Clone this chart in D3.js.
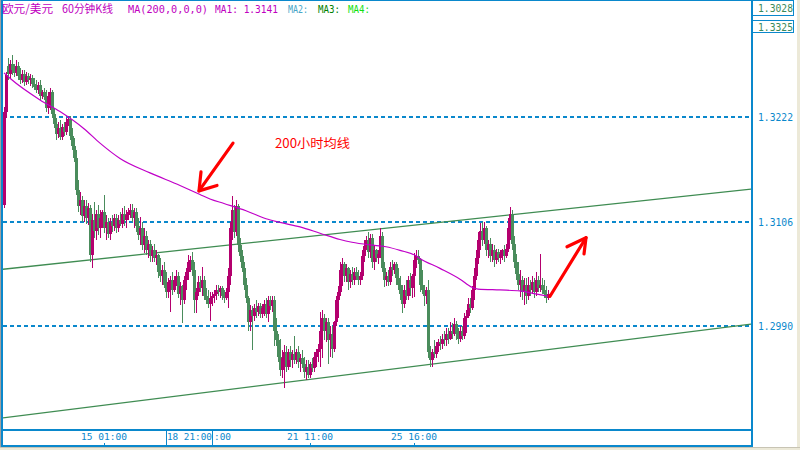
<!DOCTYPE html>
<html><head><meta charset="utf-8">
<script src="https://cdn.jsdelivr.net/npm/d3@7"></script>
<style>
html,body{margin:0;padding:0;background:#ece9d8;}
svg{display:block;}
</style></head><body>
<svg id="c" width="800" height="450"></svg>
<script>
// ---------------- data (EUR/USD, 60-minute bars) ----------------
const opens=[
1.3124,1.3228,1.3279,1.3270,1.3281,1.3274,1.3271,1.3279,1.3268,1.3263,
1.3270,1.3261,1.3268,1.3263,1.3265,1.3259,1.3255,1.3252,1.3258,1.3245,
1.3250,1.3244,1.3232,1.3245,1.3250,1.3225,1.3214,1.3203,1.3210,1.3200,
1.3211,1.3205,1.3216,1.3220,1.3201,1.3190,1.3176,1.3141,1.3123,1.3130,
1.3112,1.3123,1.3110,1.3121,1.3069,1.3108,1.3096,1.3114,1.3099,1.3110,
1.3116,1.3099,1.3105,1.3092,1.3105,1.3101,1.3110,1.3099,1.3108,1.3103,
1.3114,1.3108,1.3113,1.3116,1.3119,1.3110,1.3116,1.3101,1.3091,1.3099,
1.3080,1.3090,1.3074,1.3081,1.3068,1.3074,1.3065,1.3069,1.3050,1.3045,
1.3052,1.3036,1.3028,1.3039,1.3041,1.3030,1.3041,1.3045,1.3025,1.3034,
1.3019,1.3041,1.3050,1.3061,1.3063,1.3052,1.3019,1.3028,1.3039,1.3032,
1.3041,1.3023,1.3019,1.3014,1.3021,1.3023,1.3025,1.3030,1.3028,1.3032,
1.3023,1.3021,1.3028,1.3045,1.3099,1.3119,1.3094,1.3123,1.3080,1.3068,
1.3054,1.3035,1.3021,1.2994,1.3008,1.3001,1.3010,1.3005,1.3012,1.3003,
1.3010,1.3014,1.3003,1.3019,1.3012,1.3019,1.2985,1.2974,1.2956,1.2941,
1.2954,1.2961,1.2945,1.2961,1.2952,1.2959,1.2952,1.2961,1.2950,1.2954,
1.2948,1.2939,1.2945,1.2936,1.2948,1.2943,1.2956,1.2961,1.2965,1.2985,
1.2999,1.2985,1.2994,1.2974,1.2981,1.2965,1.2994,1.3019,1.3028,1.3052,
1.3059,1.3045,1.3054,1.3039,1.3048,1.3041,1.3050,1.3045,1.3041,1.3045,
1.3068,1.3079,1.3085,1.3072,1.3088,1.3061,1.3074,1.3065,1.3070,1.3090,
1.3054,1.3041,1.3045,1.3039,1.3056,1.3052,1.3059,1.3043,1.3036,1.3025,
1.3014,1.3030,1.3023,1.3041,1.3032,1.3045,1.3063,1.3068,1.3063,1.3036,
1.3030,1.3023,1.3030,1.2961,1.2952,1.2961,1.2959,1.2968,1.2972,1.2970,
1.2976,1.2974,1.2981,1.2976,1.2985,1.2981,1.2992,1.2981,1.2976,1.2985,
1.2979,1.2999,1.3001,1.3014,1.3010,1.3030,1.3045,1.3065,1.3085,1.3096,
1.3085,1.3099,1.3074,1.3081,1.3068,1.3074,1.3063,1.3072,1.3065,1.3070,
1.3074,1.3068,1.3076,1.3099,1.3114,1.3081,1.3061,1.3048,1.3036,1.3041,
1.3028,1.3036,1.3023,1.3036,1.3030,1.3039,1.3028,1.3041,1.3032,1.3036,
1.3030,1.3025,1.3021];
const highs=[
1.3233,1.3272,1.3288,1.3285,1.3291,1.3281,1.3285,1.3283,1.3276,1.3274,
1.3274,1.3272,1.3271,1.3270,1.3269,1.3265,1.3263,1.3261,1.3263,1.3252,
1.3254,1.3252,1.3250,1.3254,1.3252,1.3232,1.3221,1.3216,1.3219,1.3214,
1.3216,1.3221,1.3223,1.3223,1.3210,1.3199,1.3185,1.3152,1.3139,1.3134,
1.3130,1.3130,1.3126,1.3124,1.3114,1.3128,1.3119,1.3124,1.3119,1.3119,
1.3135,1.3113,1.3110,1.3110,1.3113,1.3114,1.3114,1.3113,1.3116,1.3121,
1.3123,1.3119,1.3121,1.3125,1.3125,1.3121,1.3121,1.3110,1.3111,1.3105,
1.3099,1.3096,1.3085,1.3085,1.3079,1.3081,1.3074,1.3070,1.3065,1.3058,
1.3061,1.3050,1.3043,1.3045,1.3050,1.3045,1.3052,1.3050,1.3039,1.3036,
1.3045,1.3054,1.3069,1.3068,1.3072,1.3061,1.3032,1.3045,1.3045,1.3056,
1.3045,1.3032,1.3030,1.3028,1.3028,1.3030,1.3035,1.3036,1.3034,1.3034,
1.3030,1.3032,1.3054,1.3105,1.3134,1.3124,1.3130,1.3125,1.3088,1.3074,
1.3061,1.3043,1.3023,1.3013,1.3012,1.3014,1.3019,1.3015,1.3016,1.3014,
1.3019,1.3021,1.3023,1.3023,1.3023,1.3023,1.2999,1.2981,1.2976,1.2963,
1.2969,1.2968,1.2965,1.2968,1.2963,1.2979,1.2965,1.2968,1.2959,1.2963,
1.2956,1.2952,1.2952,1.2950,1.2954,1.2961,1.2965,1.2970,1.3005,1.3008,
1.3003,1.2999,1.2999,1.2990,1.2990,1.2996,1.3023,1.3034,1.3061,1.3065,
1.3061,1.3059,1.3056,1.3052,1.3056,1.3054,1.3056,1.3052,1.3050,1.3074,
1.3085,1.3090,1.3094,1.3092,1.3092,1.3079,1.3076,1.3074,1.3099,1.3094,
1.3061,1.3050,1.3052,1.3061,1.3063,1.3061,1.3061,1.3054,1.3045,1.3036,
1.3035,1.3041,1.3045,1.3049,1.3048,1.3071,1.3074,1.3074,1.3066,1.3052,
1.3036,1.3033,1.3041,1.2968,1.2965,1.2974,1.2972,1.2976,1.2979,1.2981,
1.2985,1.2988,1.2988,1.2994,1.2993,1.2999,1.2996,1.2988,1.2990,1.2990,
1.3004,1.3008,1.3021,1.3021,1.3034,1.3054,1.3074,1.3094,1.3104,1.3105,
1.3105,1.3101,1.3085,1.3088,1.3081,1.3080,1.3076,1.3076,1.3074,1.3076,
1.3080,1.3081,1.3110,1.3122,1.3119,1.3090,1.3070,1.3061,1.3052,1.3045,
1.3043,1.3043,1.3044,1.3041,1.3045,1.3043,1.3050,1.3045,1.3070,1.3043,
1.3041,1.3034,1.3030];
const lows=[
1.3121,1.3221,1.3263,1.3265,1.3269,1.3266,1.3268,1.3263,1.3259,1.3260,
1.3256,1.3258,1.3259,1.3256,1.3254,1.3252,1.3249,1.3248,1.3241,1.3242,
1.3241,1.3228,1.3225,1.3230,1.3221,1.3210,1.3196,1.3199,1.3196,1.3196,
1.3201,1.3202,1.3212,1.3196,1.3185,1.3172,1.3135,1.3116,1.3113,1.3105,
1.3105,1.3103,1.3102,1.3061,1.3054,1.3088,1.3085,1.3091,1.3088,1.3099,
1.3093,1.3085,1.3088,1.3085,1.3094,1.3096,1.3093,1.3094,1.3101,1.3099,
1.3101,1.3099,1.3108,1.3110,1.3105,1.3099,1.3094,1.3085,1.3080,1.3074,
1.3071,1.3069,1.3065,1.3061,1.3061,1.3061,1.3058,1.3043,1.3039,1.3036,
1.3032,1.3021,1.3021,1.3005,1.3024,1.3028,1.3034,1.3021,1.3013,1.2993,
1.3014,1.3030,1.3041,1.3050,1.3046,1.3004,1.3004,1.3023,1.3028,1.3023,
1.3019,1.3014,1.3010,1.2996,1.3012,1.3016,1.3019,1.3023,1.3021,1.3019,
1.3016,1.3019,1.3010,1.3035,1.3085,1.3088,1.3090,1.3072,1.3061,1.3050,
1.3030,1.3015,1.2985,1.2985,1.2963,1.2996,1.2999,1.3001,1.2999,1.2999,
1.3001,1.2999,1.2994,1.3008,1.3005,1.2968,1.2968,1.2950,1.2934,1.2932,
1.2921,1.2939,1.2941,1.2945,1.2943,1.2948,1.2948,1.2943,1.2939,1.2943,
1.2932,1.2930,1.2932,1.2932,1.2939,1.2939,1.2945,1.2950,1.2945,1.2954,
1.2974,1.2972,1.2948,1.2956,1.2954,1.2961,1.2990,1.2999,1.3023,1.3034,
1.3039,1.3039,1.3030,1.3032,1.3036,1.3036,1.3041,1.3036,1.3036,1.3041,
1.3061,1.3074,1.3065,1.3065,1.3054,1.3052,1.3061,1.3059,1.3065,1.3050,
1.3033,1.3034,1.3034,1.3036,1.3045,1.3048,1.3036,1.3030,1.3019,1.3004,
1.3010,1.3019,1.3019,1.3023,1.3021,1.3022,1.3054,1.3059,1.3028,1.3025,
1.3012,1.3014,1.2954,1.2944,1.2945,1.2954,1.2954,1.2961,1.2963,1.2965,
1.2968,1.2968,1.2970,1.2974,1.2976,1.2979,1.2974,1.2970,1.2972,1.2974,
1.2976,1.2982,1.2999,1.3004,1.3008,1.3019,1.3041,1.3059,1.3074,1.3079,
1.3081,1.3068,1.3065,1.3061,1.3061,1.3056,1.3059,1.3061,1.3059,1.3063,
1.3061,1.3065,1.3072,1.3085,1.3074,1.3054,1.3041,1.3030,1.3022,1.3019,
1.3013,1.3014,1.3019,1.3023,1.3025,1.3021,1.3023,1.3028,1.3028,1.3025,
1.3021,1.3016,1.3019];
const closes=[
1.3228,1.3269,1.3270,1.3281,1.3274,1.3271,1.3279,1.3268,1.3263,1.3270,
1.3261,1.3268,1.3263,1.3265,1.3259,1.3255,1.3252,1.3258,1.3245,1.3250,
1.3244,1.3232,1.3245,1.3250,1.3225,1.3214,1.3203,1.3210,1.3200,1.3211,
1.3205,1.3216,1.3220,1.3201,1.3190,1.3176,1.3141,1.3123,1.3130,1.3112,
1.3123,1.3110,1.3121,1.3069,1.3108,1.3096,1.3114,1.3099,1.3110,1.3116,
1.3099,1.3105,1.3092,1.3105,1.3101,1.3110,1.3099,1.3108,1.3103,1.3114,
1.3108,1.3113,1.3116,1.3119,1.3110,1.3116,1.3101,1.3091,1.3099,1.3080,
1.3090,1.3074,1.3081,1.3068,1.3074,1.3065,1.3069,1.3050,1.3045,1.3052,
1.3036,1.3028,1.3039,1.3041,1.3030,1.3041,1.3045,1.3025,1.3034,1.3019,
1.3041,1.3050,1.3061,1.3063,1.3052,1.3019,1.3028,1.3039,1.3032,1.3041,
1.3023,1.3019,1.3014,1.3021,1.3023,1.3025,1.3030,1.3028,1.3032,1.3023,
1.3021,1.3028,1.3045,1.3099,1.3119,1.3094,1.3123,1.3080,1.3068,1.3054,
1.3035,1.3021,1.2994,1.3008,1.3001,1.3010,1.3005,1.3012,1.3003,1.3010,
1.3014,1.3003,1.3019,1.3012,1.3019,1.2985,1.2974,1.2956,1.2941,1.2954,
1.2961,1.2945,1.2961,1.2952,1.2959,1.2952,1.2961,1.2950,1.2954,1.2948,
1.2939,1.2945,1.2936,1.2948,1.2943,1.2956,1.2961,1.2965,1.2985,1.2999,
1.2985,1.2994,1.2974,1.2981,1.2965,1.2994,1.3019,1.3028,1.3052,1.3059,
1.3045,1.3054,1.3039,1.3048,1.3041,1.3050,1.3045,1.3041,1.3045,1.3068,
1.3079,1.3085,1.3072,1.3088,1.3061,1.3074,1.3065,1.3070,1.3090,1.3054,
1.3041,1.3045,1.3039,1.3056,1.3052,1.3059,1.3043,1.3036,1.3025,1.3014,
1.3030,1.3023,1.3041,1.3032,1.3045,1.3063,1.3068,1.3063,1.3036,1.3030,
1.3023,1.3030,1.2961,1.2952,1.2961,1.2959,1.2968,1.2972,1.2970,1.2976,
1.2974,1.2981,1.2976,1.2985,1.2981,1.2992,1.2981,1.2976,1.2985,1.2979,
1.2999,1.3001,1.3014,1.3010,1.3030,1.3045,1.3065,1.3085,1.3096,1.3085,
1.3099,1.3074,1.3081,1.3068,1.3074,1.3063,1.3072,1.3065,1.3070,1.3074,
1.3068,1.3076,1.3099,1.3114,1.3081,1.3061,1.3048,1.3036,1.3041,1.3028,
1.3036,1.3023,1.3036,1.3030,1.3039,1.3028,1.3041,1.3032,1.3036,1.3030,
1.3025,1.3021,1.3025];

// MA(200) read at these bar indices
const maBars=[0,3,18,28,40,48,58,73,88,93,98,103,110,121,131,138,148,158,168,174,183,191,198,206,208,218,228,234,237,248,258,265,272];
const maValues=[1.3271,1.3265,1.3241,1.3228,1.3209,1.3193,1.3176,1.3160,1.3146,1.3141,1.3136,1.3131,1.3126,1.3118,1.3109,1.3105,1.3100,1.3093,1.3086,1.3083,1.3080,1.3078,1.3074,1.3068,1.3065,1.3054,1.3042,1.3033,1.3031,1.3030,1.3029,1.3026,1.3023];

// channel trend lines: [startBar, startPrice, endBar, endPrice]
const upperTrend=[-0.5,1.3053,373.5,1.3142];
const lowerTrend=[-0.5,1.2888,373.5,1.2992];

const priceTicks=[1.3222,1.3106,1.2990];
const timeTickBars=[50,153,205];
const timeTickLabels=["15 01:00","21 11:00","25 16:00"];
const separatorBars=[81,104];
const separatorLabels=["18 21:00",":00"];
const headerLabels=["1.3028","1.3325"];

// annotations (bar index, price)
const arrow1Shaft=[[114.5,1.3193],[97.5,1.3140]];
const arrow1Head=[[98.5,1.3161],[97.5,1.3140],[106.5,1.3146]];
const arrow2Shaft=[[273,1.3023],[291,1.3088]];
const arrow2Head=[[281.5,1.3078],[291,1.3088],[290,1.3070]];
const noteText="200小时均线", notePos=[135.5,1.3188];

// ---------------- drawing ----------------
const UP="#b4006e", DOWN="#4a8c5c", BLUE="#0a88cc", MA="#c000c8", TREND="#3f8c52";
const MONO="'DejaVu Sans Mono',monospace", CJK="'Noto Sans CJK SC',sans-serif";
const svg=d3.select("#c");
svg.append("rect").attr("x",0).attr("y",0).attr("width",797).attr("height",447).attr("fill","#ffffff");

const x=d3.scaleLinear().domain([0,272]).range([4,548]);
const y=d3.scaleLinear().domain([1.2990,1.3222]).range([326,117]);

const defs=svg.append("defs");
defs.append("clipPath").attr("id","plot").append("rect").attr("x",3).attr("y",1).attr("width",748).attr("height",428);

const plot=svg.append("g").attr("clip-path","url(#plot)");

// dashed price grid
plot.selectAll("line.grid").data(priceTicks).join("line")
  .attr("x1",3).attr("x2",751).attr("y1",d=>Math.round(y(d))).attr("y2",d=>Math.round(y(d)))
  .attr("stroke",BLUE).attr("stroke-width",2).attr("stroke-dasharray","4,3");

// trend lines
[upperTrend,lowerTrend].forEach(t=>{
  plot.append("line").attr("x1",x(t[0])).attr("y1",y(t[1])).attr("x2",x(t[2])).attr("y2",y(t[3]))
    .attr("stroke",TREND).attr("stroke-width",1.3);
});

// candles
const idx=d3.range(closes.length);
const col=i=>closes[i]>=opens[i]?UP:DOWN;
plot.selectAll("rect.wick").data(idx).join("rect").attr("class","wick")
  .attr("x",i=>Math.round(x(i))).attr("width",1)
  .attr("y",i=>y(highs[i])).attr("height",i=>Math.max(1,y(lows[i])-y(highs[i])))
  .attr("fill",col).attr("shape-rendering","crispEdges");
plot.selectAll("rect.body").data(idx).join("rect").attr("class","body")
  .attr("x",i=>Math.round(x(i))-1).attr("width",3)
  .attr("y",i=>Math.min(y(opens[i]),y(closes[i])))
  .attr("height",i=>Math.max(1,Math.abs(y(opens[i])-y(closes[i]))))
  .attr("fill",col).attr("shape-rendering","crispEdges");

// MA line
plot.append("path").datum(maBars.map((b,k)=>[b,maValues[k]]))
  .attr("d",d3.line().x(d=>x(d[0])).y(d=>y(d[1])).curve(d3.curveMonotoneX))
  .attr("fill","none").attr("stroke",MA).attr("stroke-width",1.2);

// red annotations
const ln=d3.line().x(d=>x(d[0])).y(d=>y(d[1]));
[arrow1Shaft,arrow1Head,arrow2Shaft,arrow2Head].forEach(p=>{
  plot.append("path").attr("d",ln(p)).attr("fill","none").attr("stroke","#ff0000")
    .attr("stroke-width",3.2).attr("stroke-linecap","round").attr("stroke-linejoin","round");
});
plot.append("text").attr("x",x(notePos[0])).attr("y",y(notePos[1])).text(noteText)
  .attr("fill","#ff0000").attr("font-family",CJK).attr("font-size",12.5)
  .attr("textLength",75).attr("lengthAdjust","spacingAndGlyphs");

// frame
const fr=svg.append("g").attr("shape-rendering","crispEdges");
fr.append("rect").attr("x",0).attr("y",0).attr("width",1).attr("height",447).attr("fill","#a0a0a0");
fr.append("rect").attr("x",1).attr("y",0).attr("width",2).attr("height",447).attr("fill",BLUE);
fr.append("rect").attr("x",1).attr("y",0).attr("width",751).attr("height",1).attr("fill",BLUE);
fr.append("rect").attr("x",751).attr("y",0).attr("width",2).attr("height",447).attr("fill",BLUE);
fr.append("rect").attr("x",1).attr("y",429).attr("width",752).attr("height",2).attr("fill",BLUE);
fr.append("rect").attr("x",1).attr("y",445).attr("width",752).attr("height",2).attr("fill",BLUE);
svg.append("rect").attr("x",0).attr("y",447).attr("width",800).attr("height",1).attr("fill","#c8c4b4");

// price axis
const yAxis=svg.append("g").attr("transform","translate(753,0)")
  .call(d3.axisRight(y).tickValues(priceTicks).tickSize(0).tickPadding(5).tickFormat(d3.format(".4f")));
yAxis.select(".domain").remove();
yAxis.selectAll("text").attr("fill",BLUE).attr("font-family",MONO)
  .attr("font-size",10.5).attr("textLength",35).attr("lengthAdjust","spacingAndGlyphs").attr("dy","0.34em");

// boxed labels at top of price scale
headerLabels.forEach((t,k)=>{
  const top=k===0?0:20, h=k===0?15:12;
  svg.append("rect").attr("x",752.5).attr("y",top+0.5).attr("width",41).attr("height",h)
    .attr("fill","#fff").attr("stroke",BLUE).attr("stroke-width",1).attr("shape-rendering","crispEdges");
  svg.append("text").attr("x",758).attr("y",top+(k===0?12:11)).text(t)
    .attr("fill","#3a8a5a").attr("font-family",MONO).attr("font-size",10.5)
    .attr("textLength",35).attr("lengthAdjust","spacingAndGlyphs");
});

// time axis
const tg=svg.append("g");
tg.selectAll("text.t").data(timeTickBars).join("text").attr("class","t")
  .attr("x",d=>x(d)).attr("y",440).attr("text-anchor","middle")
  .text((d,k)=>timeTickLabels[k]).attr("fill",BLUE)
  .attr("font-family",MONO).attr("font-size",9.5)
  .attr("textLength",46).attr("lengthAdjust","spacingAndGlyphs");
tg.selectAll("rect.tk").data(timeTickBars).join("rect").attr("class","tk")
  .attr("x",d=>Math.round(x(d))).attr("y",443).attr("width",1).attr("height",2).attr("fill",BLUE);
tg.selectAll("rect.sep").data(separatorBars).join("rect").attr("class","sep")
  .attr("x",d=>Math.round(x(d))).attr("y",431).attr("width",1).attr("height",14).attr("fill",BLUE);
tg.selectAll("text.s").data(separatorBars).join("text").attr("class","s")
  .attr("x",(d,k)=>Math.round(x(d))+(k===0?1:2)).attr("y",440).text((d,k)=>separatorLabels[k]).attr("fill",BLUE)
  .attr("font-family",MONO).attr("font-size",9.5)
  .attr("textLength",(d,k)=>k===0?45:17).attr("lengthAdjust","spacingAndGlyphs");

// chart title line
const hdr=[
  {t:"欧元/美元",x:2,w:51,c:"#c000c0",f:CJK,s:11.5},
  {t:"60分钟K线",x:62,w:51,c:"#c000c0",f:CJK,s:11.5},
  {t:"MA(200,0,0,0)",x:128,w:80,c:"#c000c0",f:MONO,s:10.5},
  {t:"MA1: 1.3141",x:215,w:63,c:"#c000c0",f:MONO,s:10.5},
  {t:"MA2:",x:288,w:20,c:"#48a6c8",f:MONO,s:10.5},
  {t:"MA3:",x:318,w:22,c:"#008000",f:MONO,s:10.5},
  {t:"MA4:",x:348,w:22,c:"#10e010",f:MONO,s:10.5}
];
svg.selectAll("text.h").data(hdr).join("text").attr("class","h")
  .attr("x",d=>d.x).attr("y",13).text(d=>d.t).attr("fill",d=>d.c)
  .attr("font-family",d=>d.f).attr("font-size",d=>d.s)
  .attr("textLength",d=>d.w).attr("lengthAdjust","spacingAndGlyphs");
</script>
</body></html>
